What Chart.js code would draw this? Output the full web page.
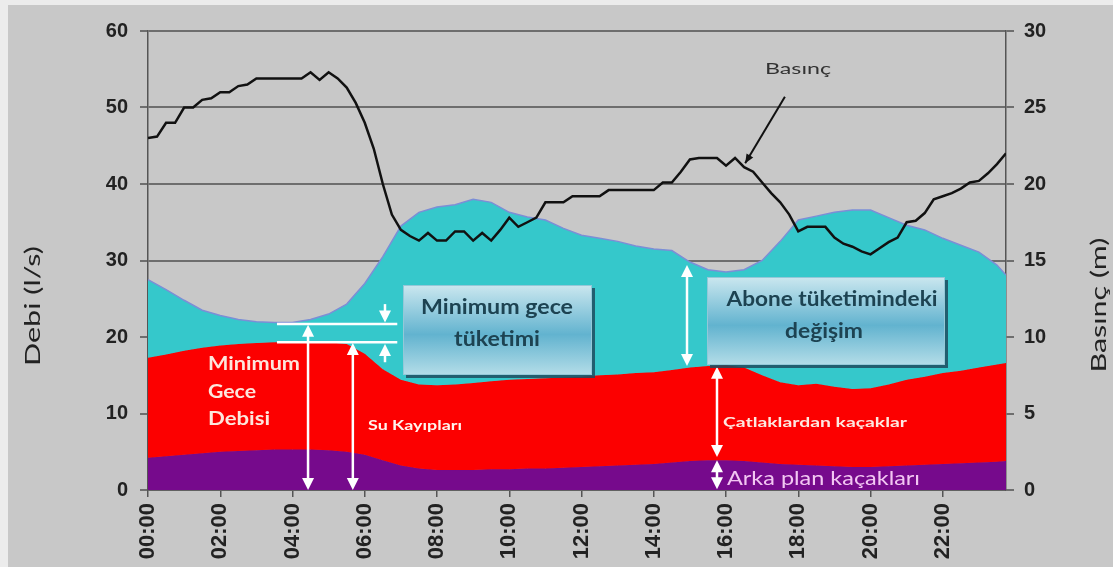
<!DOCTYPE html>
<html>
<head>
<meta charset="utf-8">
<script src="https://cdn.jsdelivr.net/npm/chart.js@4.4.1/dist/chart.umd.min.js"></script>
<style>
  html, body { margin: 0; padding: 0; background: #c8c8c8; }
  canvas { display: block; }
</style>
</head>
<body>
<canvas id="grafik" width="1113" height="567"></canvas>
<script>
// yarım saatlik debi okumaları (saat cinsinden)
const saatler = [0, 0.5, 1, 1.5, 2, 2.5, 3, 3.5, 4, 4.5,
                 5, 5.5, 6, 6.5, 7, 7.5, 8, 8.5, 9, 9.5,
                 10, 10.5, 11, 11.5, 12, 12.5, 13, 13.5, 14, 14.5,
                 15, 15.5, 16, 16.5, 17, 17.5, 18, 18.5, 19, 19.5,
                 20, 20.5, 21, 21.5, 22, 22.5, 23, 23.5, 23.75];

// 15 dakikalık basınç okumaları
const basincSaatleri = [0, 0.25, 0.5, 0.75, 1, 1.25, 1.5, 1.75, 2, 2.25, 2.5, 2.75,
                        3, 3.25, 3.5, 3.75, 4, 4.25, 4.5, 4.75, 5, 5.25, 5.5, 5.75,
                        6, 6.25, 6.5, 6.75, 7, 7.25, 7.5, 7.75, 8, 8.25, 8.5, 8.75,
                        9, 9.25, 9.5, 9.75, 10, 10.25, 10.5, 10.75, 11, 11.25, 11.5, 11.75,
                        12, 12.25, 12.5, 12.75, 13, 13.25, 13.5, 13.75, 14, 14.25, 14.5, 14.75,
                        15, 15.25, 15.5, 15.75, 16, 16.25, 16.5, 16.75, 17, 17.25, 17.5, 17.75,
                        18, 18.25, 18.5, 18.75, 19, 19.25, 19.5, 19.75, 20, 20.25, 20.5, 20.75,
                        21, 21.25, 21.5, 21.75, 22, 22.25, 22.5, 22.75, 23, 23.25, 23.5, 23.75];

const etiketSaatleri = [0, 2, 4, 6, 8, 10, 12, 14, 16, 18, 20, 22];
const saatEtiketleri = ['00:00', '02:00', '04:00', '06:00', '08:00', '10:00',
                        '12:00', '14:00', '16:00', '18:00', '20:00', '22:00'];

// Debi (l/s) - katmanların üst sınırları
const arkaPlanKacaklari = [4.2, 4.4, 4.6, 4.8, 5.0, 5.1, 5.2, 5.3, 5.3, 5.3,
                           5.2, 5.0, 4.6, 3.9, 3.2, 2.8, 2.6, 2.6, 2.6, 2.7,
                           2.7, 2.8, 2.8, 2.9, 3.0, 3.1, 3.2, 3.3, 3.4, 3.6,
                           3.8, 3.9, 3.9, 3.8, 3.6, 3.4, 3.3, 3.2, 3.1, 3.0,
                           3.0, 3.1, 3.2, 3.3, 3.4, 3.5, 3.6, 3.7, 3.8];

const suKayiplari = [17.3, 17.7, 18.2, 18.6, 18.9, 19.1, 19.2, 19.3, 19.3, 19.3,
                     19.3, 19.1, 17.8, 15.8, 14.4, 13.8, 13.7, 13.8, 14.0, 14.2,
                     14.4, 14.5, 14.6, 14.7, 14.8, 15.0, 15.1, 15.3, 15.4, 15.7,
                     16.0, 16.2, 16.3, 16.0, 15.0, 14.1, 13.7, 13.9, 13.5, 13.2,
                     13.3, 13.8, 14.4, 14.8, 15.3, 15.6, 16.0, 16.4, 16.6];

const toplamDebi = [27.5, 26.2, 24.8, 23.5, 22.8, 22.3, 22.0, 21.9, 21.9, 22.3,
                    23.0, 24.3, 27.0, 30.5, 34.5, 36.3, 37.0, 37.3, 38.0, 37.6,
                    36.3, 35.7, 35.3, 34.2, 33.3, 32.9, 32.5, 31.9, 31.5, 31.3,
                    29.8, 28.8, 28.5, 28.8, 30.0, 32.5, 35.3, 35.8, 36.3, 36.6,
                    36.6, 35.6, 34.6, 34.0, 32.9, 32.0, 31.1, 29.4, 28.1];

// Basınç (m)
const basinc = [23.0, 23.1, 24.0, 24.0, 25.0, 25.0, 25.5, 25.6, 26.0, 26.0, 26.4, 26.5,
                26.9, 26.9, 26.9, 26.9, 26.9, 26.9, 27.3, 26.8, 27.3, 26.9, 26.3, 25.3,
                24.0, 22.3, 20.0, 18.0, 17.0, 16.6, 16.3, 16.8, 16.3, 16.3, 16.9, 16.9,
                16.3, 16.8, 16.3, 17.0, 17.8, 17.2, 17.5, 17.8, 18.8, 18.8, 18.8, 19.2,
                19.2, 19.2, 19.2, 19.6, 19.6, 19.6, 19.6, 19.6, 19.6, 20.1, 20.1, 20.8,
                21.6, 21.7, 21.7, 21.7, 21.2, 21.7, 21.1, 20.8, 20.1, 19.4, 18.8, 18.0,
                16.9, 17.2, 17.2, 17.2, 16.5, 16.1, 15.9, 15.6, 15.4, 15.8, 16.2, 16.5,
                17.5, 17.6, 18.1, 19.0, 19.2, 19.4, 19.7, 20.1, 20.2, 20.7, 21.3, 22.0];

function noktalar(x, dizi) {
    return dizi.map((v, i) => ({ x: x[i], y: v }));
}

// yardımcı çizim fonksiyonları
function okBasi(c, x, y, yon, renk) {
    c.fillStyle = renk;
    c.beginPath();
    c.moveTo(x, y);
    c.lineTo(x - 6, y - yon * 12);
    c.lineTo(x + 6, y - yon * 12);
    c.closePath();
    c.fill();
}

function dikeyOk(c, x, y1, y2, ust, alt) {
    c.strokeStyle = '#ffffff';
    c.lineWidth = 2.5;
    c.beginPath();
    c.moveTo(x, y1 + (ust ? 8 : 0));
    c.lineTo(x, y2 - (alt ? 8 : 0));
    c.stroke();
    if (ust) okBasi(c, x, y1, -1, '#ffffff');
    if (alt) okBasi(c, x, y2, 1, '#ffffff');
}

function yazi(c, metin, x, y, font, renk, genislik, hiza) {
    c.save();
    c.font = font;
    c.fillStyle = renk;
    c.textBaseline = 'middle';
    c.textAlign = hiza || 'left';
    const w = c.measureText(metin).width;
    c.translate(x, y);
    c.scale(genislik ? genislik / w : 1, 1);
    c.fillText(metin, 0, 0);
    c.restore();
}

function kutu(c, x, y, w, h) {
    c.save();
    c.fillStyle = 'rgba(30,75,95,0.85)';
    c.fillRect(x + 3, y + 3, w, h);
    const g = c.createLinearGradient(0, y, 0, y + h);
    g.addColorStop(0, '#cbe7ef');
    g.addColorStop(0.55, '#62b3cf');
    g.addColorStop(1, '#b4dde8');
    c.fillStyle = g;
    c.fillRect(x, y, w, h);
    c.strokeStyle = '#93c8d8';
    c.lineWidth = 1;
    c.strokeRect(x + 0.5, y + 0.5, w - 1, h - 1);
    c.restore();
}

const arkaPlan = {
    id: 'arkaPlan',
    beforeDraw(chart) {
        const c = chart.ctx;
        c.save();
        c.fillStyle = '#ececec';
        c.fillRect(0, 0, chart.width, chart.height);
        c.fillStyle = '#c8c8c8';
        c.fillRect(8, 5, chart.width - 8, chart.height - 5);
        c.restore();
    }
};

const aciklamalar = {
    id: 'aciklamalar',
    afterDatasetsDraw(chart) {
        const c = chart.ctx;
        const X = h => chart.scales.x.getPixelForValue(h);
        const Y = v => chart.scales.y.getPixelForValue(v);
        c.save();

        // minimum gece seviyeleri
        c.strokeStyle = '#ffffff';
        c.lineWidth = 2.5;
        [21.7, 19.3].forEach(v => {
            c.beginPath();
            c.moveTo(X(3.57), Y(v));
            c.lineTo(X(6.9), Y(v));
            c.stroke();
        });

        dikeyOk(c, X(4.43), Y(21.6), Y(0), true, true);
        dikeyOk(c, X(5.67), Y(19.2), Y(0), true, true);

        // küçük oklar
        dikeyOk(c, X(6.56), Y(24.3), Y(21.9), false, true);
        dikeyOk(c, X(6.56), Y(19.1), Y(16.7), true, false);

        dikeyOk(c, X(14.92), Y(29.4), Y(16.2), true, true);
        dikeyOk(c, X(15.75), Y(16.1), Y(4.3), true, true);
        dikeyOk(c, X(15.75), Y(3.9), Y(0.1), true, true);

        // kutular
        kutu(c, 403, 285, 189, 90);
        yazi(c, 'Minimum gece', 497, 308, 'bold 20px Lato', '#1d4352', 152, 'center');
        yazi(c, 'tüketimi', 497, 340, 'bold 20px Lato', '#1d4352', 86, 'center');

        kutu(c, 707, 277, 238, 88);
        yazi(c, 'Abone tüketimindeki', 832, 300, 'bold 20px Lato', '#1d4352', 211, 'center');
        yazi(c, 'değişim', 824, 332, 'bold 20px Lato', '#1d4352', 78, 'center');

        // katman yazıları
        const acik = '#fde6dc';
        yazi(c, 'Minimum', 208, 364, 'bold 19px Lato', acik, 92);
        yazi(c, 'Gece', 208, 392, 'bold 19px Lato', acik, 48);
        yazi(c, 'Debisi', 208, 419, 'bold 19px Lato', acik, 62);
        yazi(c, 'Su Kayıpları', 368, 426, 'bold 13px Lato', '#fff4ee', 94);
        yazi(c, 'Çatlaklardan kaçaklar', 723, 423, 'bold 13px Lato', '#fde8e0', 184);
        yazi(c, 'Arka plan kaçakları', 727, 479, '19px Lato', '#f2c6f2', 193);

        // basınç etiketi ve oku
        yazi(c, 'Basınç', 798, 69, '16px Lato', '#333333', 66, 'center');
        const x1 = X(17.63), y1 = Y(51.4), x2 = X(16.53), y2 = Y(42.7);
        c.strokeStyle = '#111111';
        c.lineWidth = 2;
        c.beginPath();
        c.moveTo(x1, y1);
        c.lineTo(x2, y2);
        c.stroke();
        const a = Math.atan2(y2 - y1, x2 - x1);
        c.fillStyle = '#111111';
        c.beginPath();
        c.moveTo(x2, y2);
        c.lineTo(x2 - 10 * Math.cos(a - 0.4), y2 - 10 * Math.sin(a - 0.4));
        c.lineTo(x2 - 10 * Math.cos(a + 0.4), y2 - 10 * Math.sin(a + 0.4));
        c.closePath();
        c.fill();
        c.restore();
    },
    afterDraw(chart) {
        const c = chart.ctx;
        [['Debi (l/s)', 33, 306, 120], ['Basınç (m)', 1099, 305, 135]].forEach(([t, x, y, uz]) => {
            c.save();
            c.translate(x, y);
            c.rotate(-Math.PI / 2);
            c.font = '22px Lato';
            c.fillStyle = '#222222';
            c.textAlign = 'center';
            c.textBaseline = 'middle';
            const w = c.measureText(t).width;
            c.scale(uz / w, 1);
            c.fillText(t, 0, 0);
            c.restore();
        });
    }
};

const tikFont = { family: 'Liberation Sans', size: 20, weight: 'bold' };

new Chart(document.getElementById('grafik').getContext('2d'), {
    type: 'line',
    data: {
        datasets: [
            {
                label: 'Basınç',
                data: noktalar(basincSaatleri, basinc),
                yAxisID: 'y1',
                borderColor: '#111111',
                borderWidth: 2.5,
                pointRadius: 0,
                fill: false,
                tension: 0
            },
            {
                label: 'Abone tüketimi',
                data: noktalar(saatler, toplamDebi),
                yAxisID: 'y',
                borderColor: '#7c8ed6',
                borderWidth: 1.5,
                backgroundColor: '#35c8cb',
                pointRadius: 0,
                fill: 2
            },
            {
                label: 'Çatlaklardan kaçaklar',
                data: noktalar(saatler, suKayiplari),
                yAxisID: 'y',
                borderColor: '#f80000',
                borderWidth: 1,
                backgroundColor: '#fc0000',
                pointRadius: 0,
                fill: 3
            },
            {
                label: 'Arka plan kaçakları',
                data: noktalar(saatler, arkaPlanKacaklari),
                yAxisID: 'y',
                borderColor: '#760a8c',
                borderWidth: 1,
                backgroundColor: '#760a8c',
                pointRadius: 0,
                fill: 'origin'
            }
        ]
    },
    options: {
        responsive: false,
        animation: false,
        layout: { padding: { top: 31, right: 0, bottom: 0, left: 0 } },
        plugins: {
            legend: { display: false },
            tooltip: { enabled: false }
        },
        scales: {
            x: {
                type: 'linear',
                min: 0,
                max: 23.75,
                afterBuildTicks: s => { s.ticks = etiketSaatleri.map(v => ({ value: v })); },
                afterFit: s => { s.height = 77; },
                grid: { drawOnChartArea: false, tickLength: 7, color: '#555555', lineWidth: 1.5 },
                border: { display: true, color: '#555555', width: 1.5 },
                ticks: {
                    autoSkip: false,
                    minRotation: 90,
                    maxRotation: 90,
                    padding: 6,
                    color: '#222222',
                    font: { family: 'Liberation Sans', size: 22, weight: 'bold' },
                    callback: v => saatEtiketleri[etiketSaatleri.indexOf(v)]
                }
            },
            y: {
                position: 'left',
                min: 0,
                max: 60,
                afterFit: s => { s.width = 148; },
                ticks: { stepSize: 10, padding: 12, color: '#222222', font: tikFont },
                grid: { color: '#6e6e6e', lineWidth: 2, tickLength: 8 },
                border: { display: true, color: '#555555', width: 1.5 }
            },
            y1: {
                position: 'right',
                min: 0,
                max: 30,
                afterFit: s => { s.width = 107; },
                ticks: { stepSize: 5, padding: 10, color: '#222222', font: tikFont },
                grid: { drawOnChartArea: false, color: '#6e6e6e', lineWidth: 2, tickLength: 8 },
                border: { display: true, color: '#555555', width: 1.5 }
            }
        }
    },
    plugins: [arkaPlan, aciklamalar]
});
</script>
</body>
</html>
